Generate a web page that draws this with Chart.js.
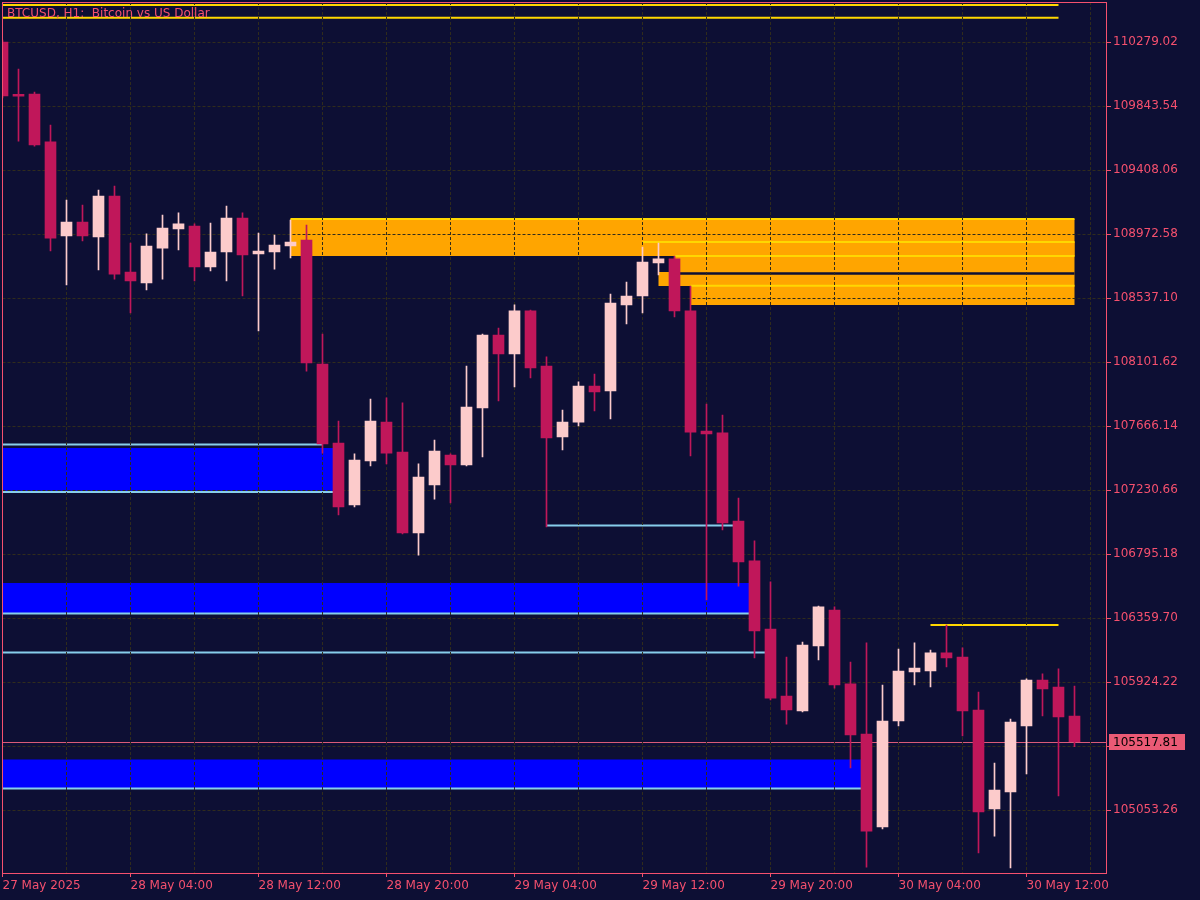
<!DOCTYPE html>
<html>
<head>
<meta charset="utf-8">
<script src="https://cdn.jsdelivr.net/npm/chart.js@4.4.1/dist/chart.umd.min.js"></script>
<style>
  html, body { margin: 0; padding: 0; background: #0d0f34; }
  #wrap { width: 1200px; height: 900px; }
</style>
</head>
<body>
<div id="wrap"><canvas id="chart"></canvas></div>
<script>
// ── Data (BTCUSD H1, first bar 27 May 20:00) ─────────────
const title = 'BTCUSD, H1:  Bitcoin vs US Dollar';

const opens = [
  110279, 109915, 109925, 109599, 108959, 109054, 108952, 109231, 108714, 108639,
  108877, 109007, 109027, 108748, 108850, 109081, 108837, 108850, 108891, 108932,
  108088, 107550, 107129, 107428, 107693, 107489, 106938, 107265, 107469, 107401,
  107789, 108285, 108156, 108449, 108074, 107591, 107693, 107938, 107904, 108490,
  108551, 108775, 108803, 108449, 107632, 107619, 107020, 106748, 106285, 105829,
  105727, 106169, 106414, 105911, 105570, 104938, 105659, 105992, 105999, 106122,
  106094, 105734, 105060, 105176, 105625, 105938, 105890, 105693
];
const highs = [
  110292, 110095, 109939, 109714, 109204, 109170, 109272, 109299, 108911, 108973,
  109102, 109116, 109041, 109047, 109163, 109116, 108979, 108966, 109068, 109034,
  108292, 107700, 107476, 107850, 107857, 107823, 107408, 107571, 107476, 108074,
  108292, 108333, 108490, 108455, 108136, 107775, 107966, 108020, 108564, 108646,
  108884, 108911, 108823, 108619, 107816, 107741, 107176, 106884, 106605, 106094,
  106196, 106441, 106435, 106060, 106190, 105904, 106149, 106190, 106142, 106312,
  106156, 105856, 105373, 105672, 105945, 105979, 106013, 105897
];
const lows = [
  109898, 109605, 109571, 108857, 108626, 108925, 108728, 108666, 108435, 108592,
  108666, 108864, 108653, 108721, 108653, 108551, 108313, 108734, 108809, 108040,
  107482, 107061, 107115, 107394, 107408, 106931, 106788, 107169, 107142, 107394,
  107455, 107836, 107932, 107993, 106979, 107503, 107666, 107768, 107714, 108360,
  108435, 108694, 108408, 107462, 106482, 106959, 106577, 106088, 105802, 105638,
  105720, 106074, 105883, 105339, 104665, 104924, 105625, 105904, 105890, 106026,
  105557, 104761, 104876, 104659, 105298, 105693, 105149, 105484
];
const closes = [
  109912, 109910, 109578, 108945, 109054, 108959, 109231, 108700, 108653, 108891,
  109013, 109041, 108748, 108850, 109081, 108830, 108857, 108898, 108918, 108095,
  107544, 107115, 107435, 107700, 107482, 106938, 107319, 107496, 107401, 107795,
  108285, 108156, 108449, 108061, 107585, 107693, 107938, 107898, 108503, 108551,
  108782, 108803, 108449, 107625, 107612, 107006, 106741, 106271, 105815, 105734,
  106176, 106435, 105904, 105564, 104910, 105659, 105999, 106019, 106122, 106088,
  105727, 105040, 105189, 105652, 105938, 105877, 105686, 105517.81
];

// one label every 8 bars
const dateLabels = [
  '27 May 2025', '28 May 04:00', '28 May 12:00', '28 May 20:00', '29 May 04:00',
  '29 May 12:00', '29 May 20:00', '30 May 04:00', '30 May 12:00'
];
const yTicks = [
  105053.26, 105488.74, 105924.22, 106359.70, 106795.18, 107230.66, 107666.14,
  108101.62, 108537.10, 108972.58, 109408.06, 109843.54, 110279.02
];

// zones: [first bar, last bar, top price, bottom price]
const supplyZones = [
  [18, 67, 109074.6, 108822.9],
  [40, 67, 108918.1, 108822.9],
  [42, 67, 108822.9, 108714.0],
  [41, 67, 108714.0, 108618.7],
  [43, 67, 108620.8, 108489.5]
];
const demandZones = [
  [0, 21, 107516.4, 107217.0],
  [0, 47, 106597.8, 106393.7],
  [0, 54, 105396.9, 105199.5]
];
// lines: [first bar, last bar, price]
const goldLines = [
  [0, 66, 110530.8], [0, 66, 110444.4], [18, 67, 109074.6], [40, 67, 108918.1],
  [42, 67, 108822.9], [43, 67, 108620.8], [58, 66, 106312.0]
];
const blueLines = [
  [0, 20, 107540.2], [0, 21, 107217.0], [34, 46, 106989.1],
  [0, 47, 106391.0], [0, 48, 106124.9], [0, 54, 105199.5]
];
const gapLines = [[42, 67, 108704.0]];

// ── Styles ──────────────────────────────────────
const BG     = '#0d0f34';
const AXIS   = '#f5506e';
const GRID   = '#302c1c';
const BULL   = '#fccbcb';
const BEAR   = '#c0175a';
const ORANGE = '#ffa500';
const GOLD   = '#ffd700';
const BLUE   = '#0000ff';
const SKY    = '#87ceeb';

Chart.defaults.font.family = 'DejaVu Sans';
Chart.defaults.font.size = 12;

const bars = opens.map((_, i) => i);
const candleColor = i => closes[i] >= opens[i] ? BULL : BEAR;
const lastClose = closes[closes.length - 1];

const xTickVals = [];
for (let k = 0; k <= 68; k += 4) xTickVals.push(k);

// ── Zones, lines, frame ─────────────────────────
const overlay = {
  id: 'overlay',
  beforeDraw(chart) {
    const { ctx, chartArea: a, scales: { x, y } } = chart;
    ctx.save();
    ctx.fillStyle = BG;
    ctx.fillRect(0, 0, chart.width, chart.height);

    ctx.beginPath();
    ctx.rect(a.left, a.top, a.right - a.left, a.bottom - a.top);
    ctx.clip();

    const rect = (z, color) => {
      const x0 = z[0] === 0 ? a.left : x.getPixelForValue(z[0]);
      const x1 = x.getPixelForValue(z[1]);
      const y0 = y.getPixelForValue(z[2]), y1 = y.getPixelForValue(z[3]);
      ctx.fillStyle = color;
      ctx.fillRect(x0, y0, x1 - x0, y1 - y0);
    };
    const line = (l, color, w) => {
      const x0 = l[0] === 0 ? a.left : x.getPixelForValue(l[0]);
      const x1 = x.getPixelForValue(l[1]);
      const yy = y.getPixelForValue(l[2]);
      ctx.strokeStyle = color; ctx.lineWidth = w;
      ctx.beginPath(); ctx.moveTo(x0, yy); ctx.lineTo(x1, yy); ctx.stroke();
    };

    supplyZones.forEach(z => rect(z, ORANGE));
    gapLines.forEach(l => line(l, BG, 2.5));
    demandZones.forEach(z => rect(z, BLUE));
    blueLines.forEach(l => line(l, SKY, 2));
    goldLines.forEach(l => line(l, GOLD, 2));

    // bid line
    const py = Math.round(y.getPixelForValue(lastClose)) + 0.5;
    ctx.strokeStyle = '#d95a78'; ctx.lineWidth = 1;
    ctx.beginPath(); ctx.moveTo(a.left, py); ctx.lineTo(a.right, py); ctx.stroke();
    ctx.restore();
  },
  afterDraw(chart) {
    const { ctx, chartArea: a, scales: { y } } = chart;
    ctx.save();
    ctx.strokeStyle = AXIS; ctx.lineWidth = 1;
    ctx.strokeRect(Math.floor(a.left) + 0.5, Math.floor(a.top) + 0.5,
                   Math.round(a.right) - Math.floor(a.left), Math.round(a.bottom) - Math.floor(a.top));

    ctx.fillStyle = AXIS;
    ctx.font = '12px "DejaVu Sans"';
    ctx.textBaseline = 'alphabetic';
    ctx.fillText(title, 7, 17);

    // current price box
    const py = Math.round(y.getPixelForValue(lastClose));
    ctx.fillStyle = '#ea5a75';
    ctx.fillRect(a.right + 3, py - 8, 76, 16);
    ctx.fillStyle = '#000000';
    ctx.textBaseline = 'middle';
    ctx.fillText(lastClose.toFixed(2), a.right + 7, py + 1);
    ctx.restore();
  }
};

new Chart(document.getElementById('chart'), {
  type: 'bar',
  data: {
    datasets: [
      {
        label: 'body',
        data: bars.map(i => ({ x: i, y: [opens[i], closes[i]] })),
        backgroundColor: bars.map(candleColor),
        barThickness: 11, minBarLength: 2, grouped: false, borderWidth: 0,
      },
      {
        label: 'wick',
        data: bars.map(i => ({ x: i, y: [lows[i], highs[i]] })),
        backgroundColor: bars.map(candleColor),
        barThickness: 1, grouped: false, borderWidth: 0,
      }
    ]
  },
  options: {
    responsive: true, maintainAspectRatio: false, animation: false,
    layout: { padding: { left: 2.5, top: 2, right: 0, bottom: 0 } },
    plugins: { legend: { display: false }, tooltip: { enabled: false } },
    events: [],
    scales: {
      x: {
        type: 'linear', min: 0, max: 68.96875, offset: false,
        afterBuildTicks: s => { s.ticks = xTickVals.map(v => ({ value: v })); },
        afterFit: s => { s.height = 27; s.paddingLeft = 0; s.paddingRight = 0; },
        ticks: {
          color: AXIS, autoSkip: false, maxRotation: 0, align: 'start', padding: 2,
          callback: v => v % 8 === 0 ? (dateLabels[v / 8] || '') : ''
        },
        grid: {
          color: GRID, offset: false, tickLength: 4,
          tickColor: c => (c.tick && c.tick.value % 8 === 0) ? AXIS : 'rgba(0,0,0,0)'
        },
        border: { display: false, dash: [3, 2] }
      },
      y: {
        position: 'right',
        min: 104624.6, max: 110551.2,
        afterBuildTicks: s => { s.ticks = yTicks.map(v => ({ value: v })); },
        afterFit: s => { s.width = 94; s.paddingTop = 0; s.paddingBottom = 0; },
        ticks: { color: AXIS, padding: 2, callback: v => v.toFixed(2) },
        grid: { color: GRID, tickColor: AXIS, tickLength: 5 },
        border: { display: false, dash: [3, 2] }
      }
    }
  },
  plugins: [overlay]
});
</script>
</body>
</html>
